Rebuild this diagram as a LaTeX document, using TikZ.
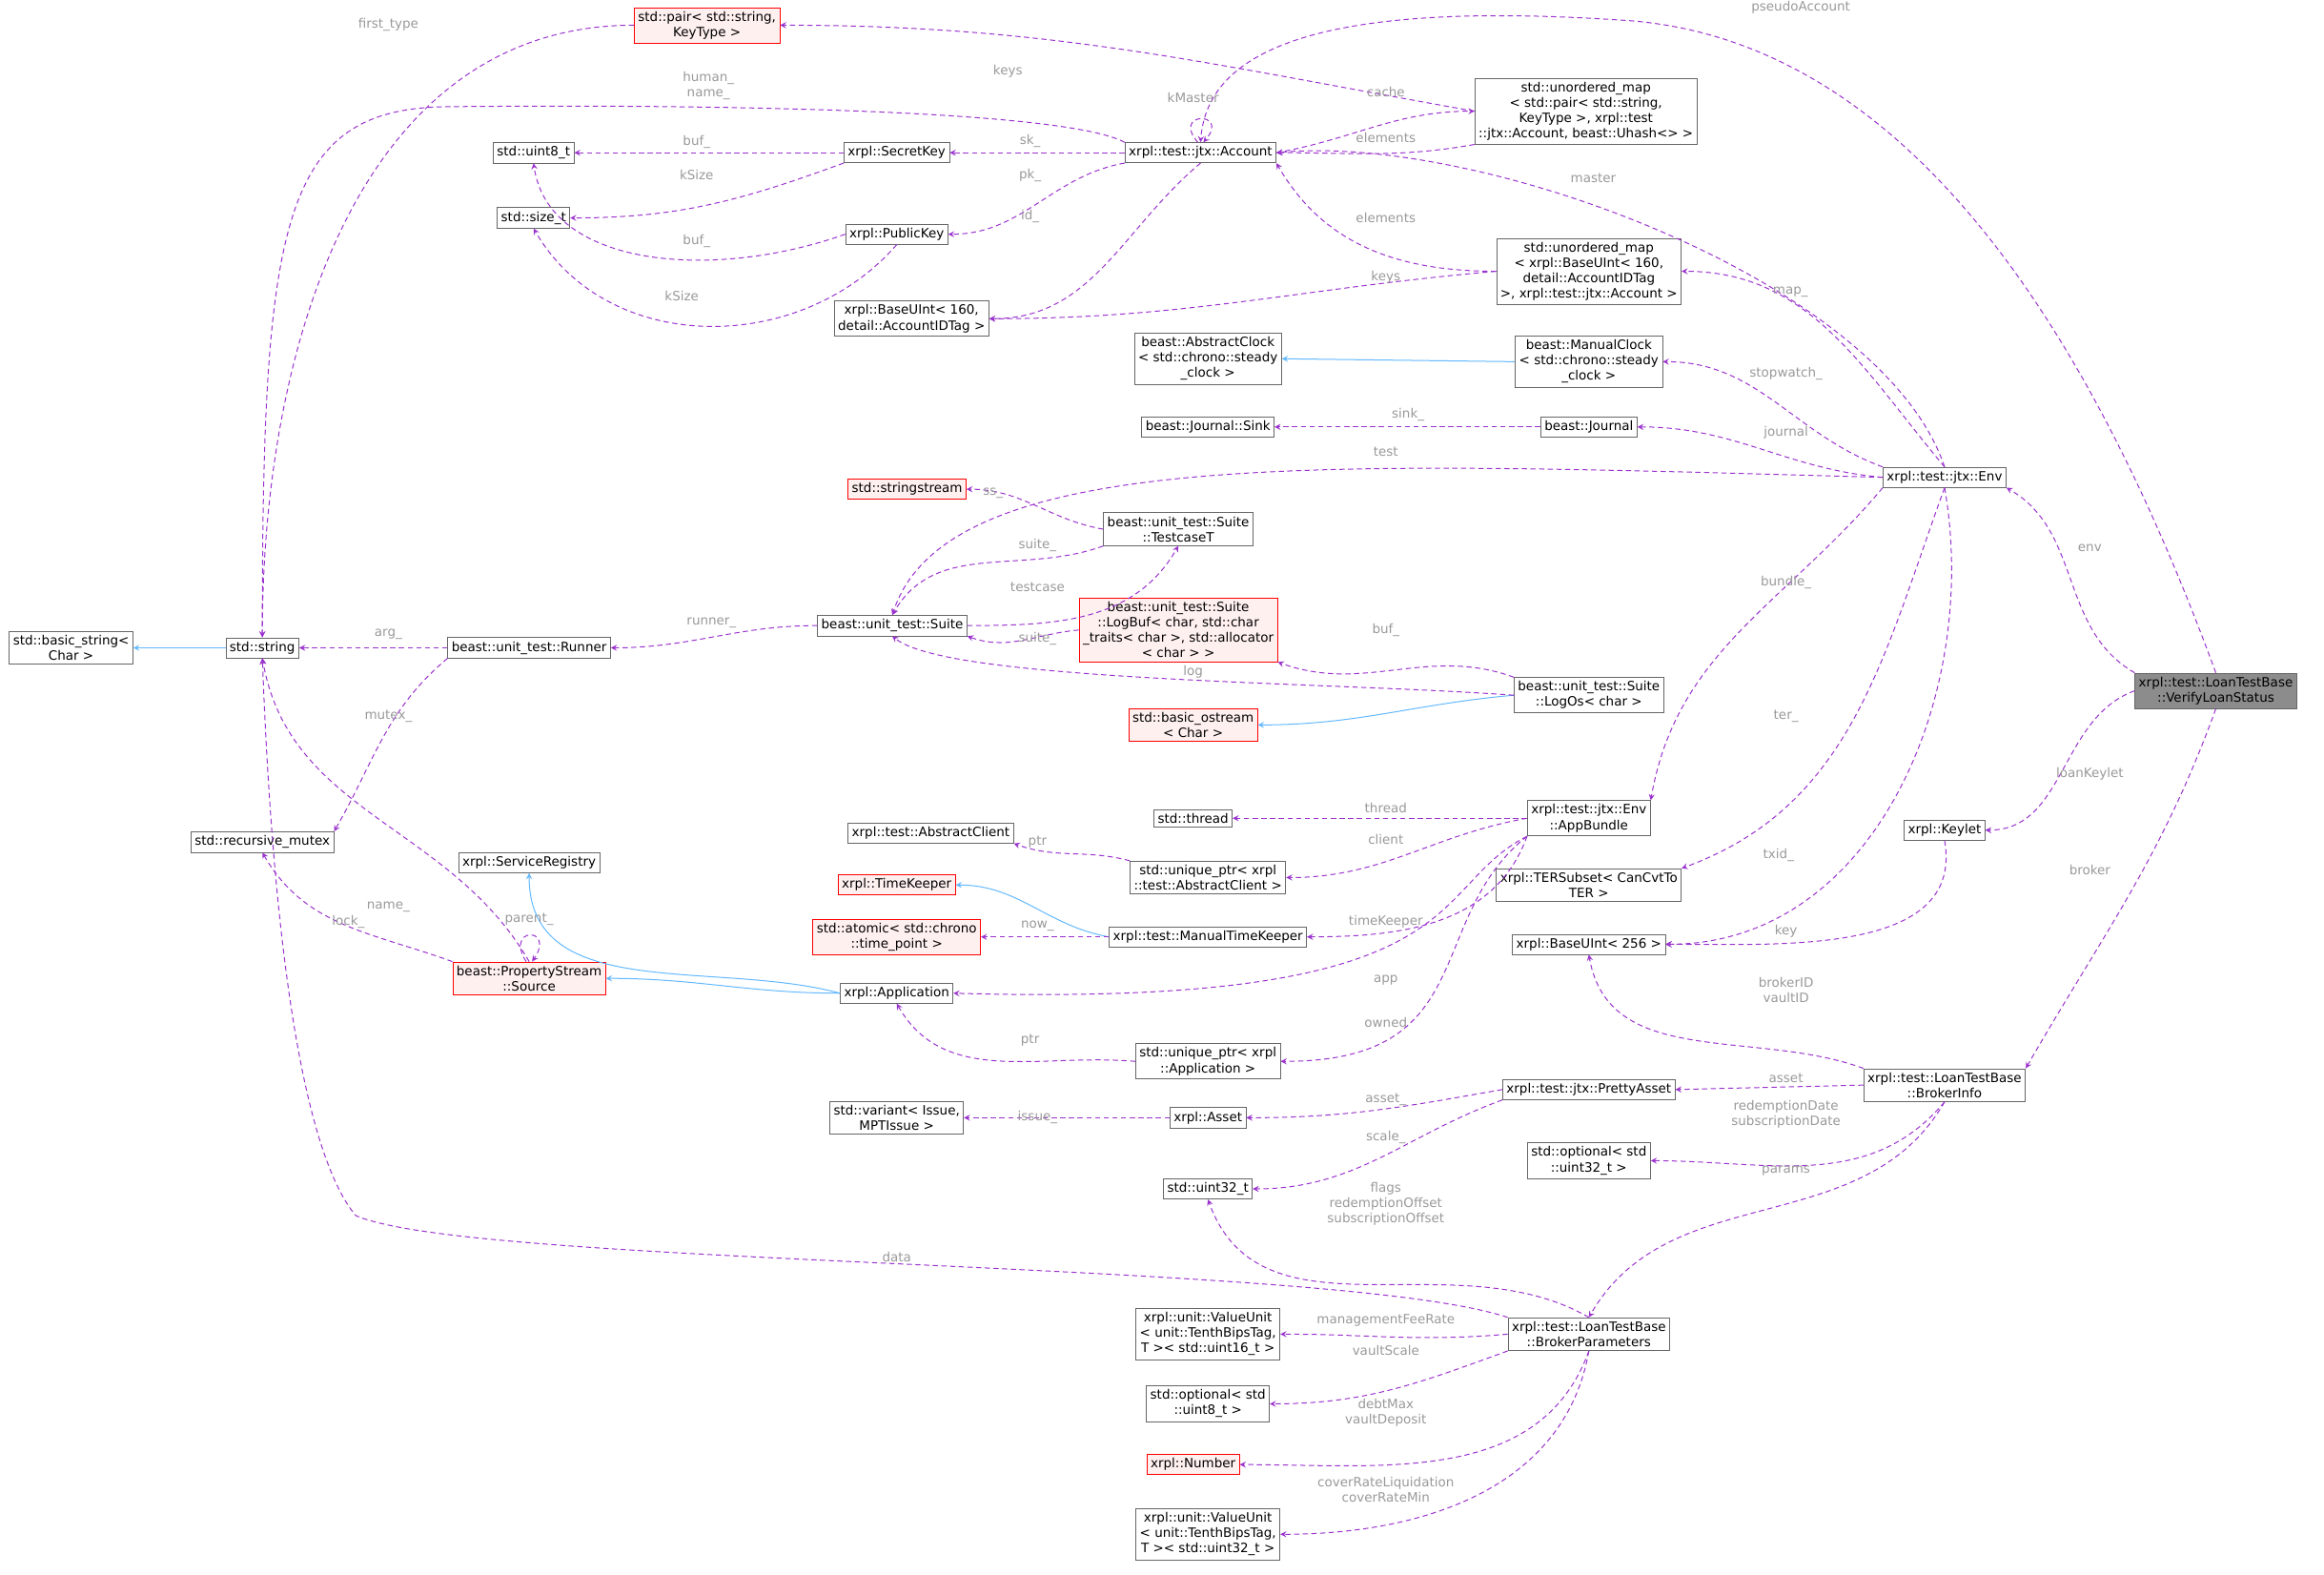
\documentclass[tikz,border=0pt]{standalone}
\usepackage{fontspec}
\setmainfont{DejaVu Sans}
\usetikzlibrary{arrows}

\definecolor{edgepurple}{HTML}{9A32CD}
\definecolor{edgeblue}{HTML}{63B8FF}

\tikzset{
  cls/.style={draw=black!60, fill=white, align=center, inner sep=2.2pt, font=\fontsize{7.4}{8.8}\selectfont},
  red/.style={cls, draw=red, fill=red!6},
  cur/.style={cls, fill=black!45},
  dep/.style={draw=edgepurple, dash pattern=on 3pt off 2pt, line width=0.55pt, -stealth},
  inh/.style={draw=edgeblue, line width=0.55pt, -stealth},
  lbl/.style={text=black!40, align=center, inner sep=0.5pt, font=\fontsize{7.4}{8.8}\selectfont}
}

\begin{document}
\begin{tikzpicture}[x=0.3mm, y=-0.3mm]
	\useasboundingbox (0,0) rectangle (1568,1062);

	% classes
	\node[cls] (basicstr) at (48,437) {std::basic\_string<\\ Char >};
	\node[cls] (string) at (177,437) {std::string};
	\node[cls] (recmutex) at (177,568) {std::recursive\_mutex};
	\node[cls] (uint8) at (360,103) {std::uint8\_t};
	\node[cls] (sizet) at (360,147) {std::size\_t};
	\node[red] (pair) at (477,17) {std::pair< std::string,\\ KeyType >};
	\node[cls] (secretkey) at (605,103) {xrpl::SecretKey};
	\node[cls] (publickey) at (605,158) {xrpl::PublicKey};
	\node[cls] (account) at (810,103) {xrpl::test::jtx::Account};
	\node[cls] (buint160) at (615,215) {xrpl::BaseUInt< 160,\\ detail::AccountIDTag >};
	\node[cls] (umap1) at (1070,75) {std::unordered\_map\\< std::pair< std::string,\\ KeyType >, xrpl::test\\::jtx::Account, beast::Uhash<> >};
	\node[cls] (umap2) at (1072,183) {std::unordered\_map\\< xrpl::BaseUInt< 160,\\ detail::AccountIDTag\\ >, xrpl::test::jtx::Account >};
	\node[cls] (absclock) at (815,242) {beast::AbstractClock\\< std::chrono::steady\\\_clock >};
	\node[cls] (manclock) at (1072,244) {beast::ManualClock\\< std::chrono::steady\\\_clock >};
	\node[cls] (sink) at (815,288) {beast::Journal::Sink};
	\node[cls] (journal) at (1072,288) {beast::Journal};
	\node[cls] (env) at (1312,322) {xrpl::test::jtx::Env};
	\node[red] (sstream) at (612,330) {std::stringstream};
	\node[cls] (testcase) at (795,357) {beast::unit\_test::Suite\\::TestcaseT};
	\node[red] (logbuf) at (795,425) {beast::unit\_test::Suite\\::LogBuf< char, std::char\\\_traits< char >, std::allocator\\< char > >};
	\node[cls] (suite) at (602,422) {beast::unit\_test::Suite};
	\node[cls] (runner) at (357,437) {beast::unit\_test::Runner};
	\node[cls] (logos) at (1072,469) {beast::unit\_test::Suite\\::LogOs< char >};
	\node[red] (bostream) at (805,489) {std::basic\_ostream\\< Char >};
	\node[cur] (verify) at (1495,466) {xrpl::test::LoanTestBase\\::VerifyLoanStatus};
	\node[cls] (thread) at (805,552) {std::thread};
	\node[cls] (bundle) at (1072,552) {xrpl::test::jtx::Env\\::AppBundle};
	\node[cls] (keylet) at (1312,560) {xrpl::Keylet};
	\node[cls] (absclient) at (628,562) {xrpl::test::AbstractClient};
	\node[cls] (uclient) at (815,592) {std::unique\_ptr< xrpl\\::test::AbstractClient >};
	\node[cls] (services) at (357,582) {xrpl::ServiceRegistry};
	\node[cls] (tersub) at (1072,597) {xrpl::TERSubset< CanCvtTo\\TER >};
	\node[red] (tkeeper) at (605,597) {xrpl::TimeKeeper};
	\node[red] (atomic) at (605,632) {std::atomic< std::chrono\\::time\_point >};
	\node[cls] (mantk) at (815,632) {xrpl::test::ManualTimeKeeper};
	\node[cls] (buint256) at (1072,637) {xrpl::BaseUInt< 256 >};
	\node[red] (psource) at (357,660) {beast::PropertyStream\\::Source};
	\node[cls] (app) at (605,670) {xrpl::Application};
	\node[cls] (uapp) at (815,716) {std::unique\_ptr< xrpl\\::Application >};
	\node[cls] (passet) at (1072,735) {xrpl::test::jtx::PrettyAsset};
	\node[cls] (binfo) at (1312,732) {xrpl::test::LoanTestBase\\::BrokerInfo};
	\node[cls] (variant) at (605,754) {std::variant< Issue,\\ MPTIssue >};
	\node[cls] (asset) at (815,754) {xrpl::Asset};
	\node[cls] (uint32) at (815,802) {std::uint32\_t};
	\node[cls] (opt32) at (1072,783) {std::optional< std\\::uint32\_t >};
	\node[cls] (bparams) at (1072,900) {xrpl::test::LoanTestBase\\::BrokerParameters};
	\node[cls] (vunit16) at (815,900) {xrpl::unit::ValueUnit\\< unit::TenthBipsTag,\\ T >< std::uint16\_t >};
	\node[cls] (opt8) at (815,947) {std::optional< std\\::uint8\_t >};
	\node[red] (number) at (805,988) {xrpl::Number};
	\node[cls] (vunit32) at (815,1035) {xrpl::unit::ValueUnit\\< unit::TenthBipsTag,\\ T >< std::uint32\_t >};

	% inheritance
	\draw[inh] (string.west) -- (basicstr.east);
	\draw[inh] (manclock.west) -- (absclock.east);
	\draw[inh] (logos.west) to[out=185,in=0] (bostream.east);
	\draw[inh] (mantk.west) to[out=170,in=0] (tkeeper.east);
	\draw[inh] (app.west) to[out=165,in=-90] (services.south);
	\draw[inh] (app.west) to[out=180,in=0] (psource.east);

	% members
	\draw[dep] (pair.west) to[out=180,in=90] (string.north);
	\draw[dep] (umap1.west) to[out=170,in=0] (pair.east);
	\draw[dep] (account.north west) .. controls (720,75) and (500,70) .. (300,72) .. controls (190,74) and (177,150) .. (string.north);
	\draw[dep] (secretkey.west) -- (uint8.east);
	\draw[dep] (secretkey.south west) to[out=200,in=0] (sizet.east);
	\draw[dep] (publickey.west) .. controls (480,190) and (370,180) .. (uint8.south);
	\draw[dep] (publickey.south) .. controls (540,240) and (410,240) .. (sizet.south);
	\draw[dep] (account.west) -- (secretkey.east);
	\draw[dep] (account.south west) to[out=190,in=0] (publickey.east);
	\draw[dep] (account.south) to[out=220,in=0] (buint160.east);
	\draw[dep] (account.105) .. controls (790,75) and (830,75) .. (account.75);
	\draw[dep] (account.east) to[out=10,in=180] (umap1.west);
	\draw[dep] (umap1.south west) to[out=190,in=0] (account.east);
	\draw[dep] (umap2.west) to[out=180,in=-60] (account.south east);
	\draw[dep] (umap2.west) to[out=185,in=0] (buint160.east);
	\draw[dep] (verify.north) .. controls (1420,250) and (1300,30) .. (1100,14) .. controls (900,0) and (815,30) .. (account.north);
	\draw[dep] (env.north) .. controls (1270,190) and (1000,90) .. (account.east);
	\draw[dep] (env.north) to[out=130,in=0] (umap2.east);
	\draw[dep] (env.north west) to[out=160,in=0] (manclock.east);
	\draw[dep] (env.west) to[out=175,in=0] (journal.east);
	\draw[dep] (journal.west) -- (sink.east);
	\draw[dep] (env.west) .. controls (900,312) and (640,300) .. (suite.north);
	\draw[dep] (testcase.west) to[out=170,in=0] (sstream.east);
	\draw[dep] (testcase.south west) to[out=200,in=60] (suite.north);
	\draw[dep] (suite.east) to[out=0,in=240] (testcase.south);
	\draw[dep] (logbuf.west) to[out=185,in=-20] (suite.south east);
	\draw[dep] (logos.north west) to[out=160,in=-20] (logbuf.south east);
	\draw[dep] (logos.west) .. controls (900,460) and (640,460) .. (suite.south);
	\draw[dep] (suite.west) to[out=180,in=0] (runner.east);
	\draw[dep] (runner.west) -- (string.east);
	\draw[dep] (runner.south west) to[out=220,in=60] (recmutex.north east);
	\draw[dep] (psource.north) to[out=120,in=-80] (string.south);
	\draw[dep] (psource.north west) to[out=160,in=-60] (recmutex.south);
	\draw[dep] (psource.100) .. controls (340,625) and (375,625) .. (psource.80);
	\draw[dep] (verify.north west) to[out=150,in=-30] (env.south east);
	\draw[dep] (env.south west) to[out=230,in=80] (bundle.north east);
	\draw[dep] (env.south) to[out=250,in=20] (tersub.north east);
	\draw[dep] (env.south) to[out=280,in=0] (buint256.east);
	\draw[dep] (bundle.west) -- (thread.east);
	\draw[dep] (bundle.west) to[out=190,in=0] (uclient.east);
	\draw[dep] (uclient.north west) to[out=165,in=-20] (absclient.south east);
	\draw[dep] (bundle.south west) to[out=250,in=0] (mantk.east);
	\draw[dep] (mantk.west) -- (atomic.east);
	\draw[dep] (bundle.south west) .. controls (960,600) and (1000,680) .. (app.east);
	\draw[dep] (bundle.south west) .. controls (960,620) and (1000,716) .. (uapp.east);
	\draw[dep] (uapp.west) to[out=175,in=-60] (app.south);
	\draw[dep] (verify.west) to[out=200,in=0] (keylet.east);
	\draw[dep] (keylet.south) to[out=-80,in=0] (buint256.east);
	\draw[dep] (verify.south) to[out=250,in=60] (binfo.north east);
	\draw[dep] (binfo.north west) to[out=160,in=-80] (buint256.south);
	\draw[dep] (binfo.west) -- (passet.east);
	\draw[dep] (binfo.south) to[out=230,in=0] (opt32.east);
	\draw[dep] (binfo.south) to[out=240,in=60] (bparams.north);
	\draw[dep] (passet.west) to[out=190,in=0] (asset.east);
	\draw[dep] (passet.south west) to[out=200,in=0] (uint32.east);
	\draw[dep] (asset.west) -- (variant.east);
	\draw[dep] (bparams.north) to[out=150,in=-70] (uint32.south);
	\draw[dep] (bparams.north west) .. controls (900,850) and (320,855) .. (240,820) .. controls (190,760) and (180,520) .. (string.south);
	\draw[dep] (bparams.west) to[out=185,in=0] (vunit16.east);
	\draw[dep] (bparams.south west) to[out=200,in=0] (opt8.east);
	\draw[dep] (bparams.south) to[out=250,in=0] (number.east);
	\draw[dep] (bparams.south) to[out=260,in=0] (vunit32.east);

	% member names
	\node[lbl] (lfirst) at (262,17) {first\_type};
	\node[lbl] (lkeys1) at (680,48) {keys};
	\node[lbl] (lhuman) at (478,58) {human\_\\name\_};
	\node[lbl] (lbuf1) at (470,96) {buf\_};
	\node[lbl] (lksize1) at (470,118) {kSize};
	\node[lbl] (lbuf2) at (470,163) {buf\_};
	\node[lbl] (lksize2) at (460,200) {kSize};
	\node[lbl] (lsk) at (695,95) {sk\_};
	\node[lbl] (lpk) at (695,118) {pk\_};
	\node[lbl] (lid) at (695,146) {id\_};
	\node[lbl] (lkmaster) at (805,66) {kMaster};
	\node[lbl] (lcache) at (935,62) {cache};
	\node[lbl] (lelem1) at (935,93) {elements};
	\node[lbl] (lelem2) at (935,147) {elements};
	\node[lbl] (lkeys2) at (935,187) {keys};
	\node[lbl] (lpseudo) at (1215,5) {pseudoAccount};
	\node[lbl] (lmaster) at (1075,120) {master};
	\node[lbl] (lmap) at (1208,197) {map\_};
	\node[lbl] (lstop) at (1205,252) {stopwatch\_};
	\node[lbl] (ljournal) at (1205,292) {journal};
	\node[lbl] (lsink) at (950,280) {sink\_};
	\node[lbl] (ltest) at (935,305) {test};
	\node[lbl] (lss) at (670,333) {ss\_};
	\node[lbl] (lsuite1) at (700,368) {suite\_};
	\node[lbl] (ltestcase) at (700,396) {testcase};
	\node[lbl] (lsuite2) at (700,431) {suite\_};
	\node[lbl] (lbuf3) at (935,425) {buf\_};
	\node[lbl] (llog) at (805,453) {log};
	\node[lbl] (lrunner) at (480,420) {runner\_};
	\node[lbl] (larg) at (262,428) {arg\_};
	\node[lbl] (lmutex) at (262,483) {mutex\_};
	\node[lbl] (lname) at (262,612) {name\_};
	\node[lbl] (llock) at (235,622) {lock\_};
	\node[lbl] (lparent) at (357,620) {parent\_};
	\node[lbl] (lenv) at (1410,370) {env};
	\node[lbl] (lbundle) at (1205,393) {bundle\_};
	\node[lbl] (lter) at (1205,483) {ter\_};
	\node[lbl] (ltxid) at (1200,577) {txid\_};
	\node[lbl] (lthread) at (935,545) {thread};
	\node[lbl] (lclient) at (935,566) {client};
	\node[lbl] (lptr1) at (700,568) {ptr};
	\node[lbl] (ltk) at (935,622) {timeKeeper};
	\node[lbl] (lnow) at (700,625) {now\_};
	\node[lbl] (lapp) at (935,661) {app};
	\node[lbl] (lowned) at (935,690) {owned};
	\node[lbl] (lptr2) at (695,702) {ptr};
	\node[lbl] (lloan) at (1410,522) {loanKeylet};
	\node[lbl] (lbroker) at (1410,587) {broker};
	\node[lbl] (lkey) at (1205,628) {key};
	\node[lbl] (lids) at (1205,668) {brokerID\\vaultID};
	\node[lbl] (lasset) at (1205,727) {asset};
	\node[lbl] (ldates) at (1205,752) {redemptionDate\\subscriptionDate};
	\node[lbl] (lparams) at (1205,790) {params};
	\node[lbl] (lasset2) at (935,742) {asset\_};
	\node[lbl] (lscale) at (935,767) {scale\_};
	\node[lbl] (lissue) at (700,754) {issue\_};
	\node[lbl] (lflags) at (935,812) {flags\\redemptionOffset\\subscriptionOffset};
	\node[lbl] (ldata) at (605,848) {data};
	\node[lbl] (lfee) at (935,891) {managementFeeRate};
	\node[lbl] (lvscale) at (935,911) {vaultScale};
	\node[lbl] (ldebt) at (935,953) {debtMax\\vaultDeposit};
	\node[lbl] (lcover) at (935,1005) {coverRateLiquidation\\coverRateMin};
\end{tikzpicture}
\end{document}
